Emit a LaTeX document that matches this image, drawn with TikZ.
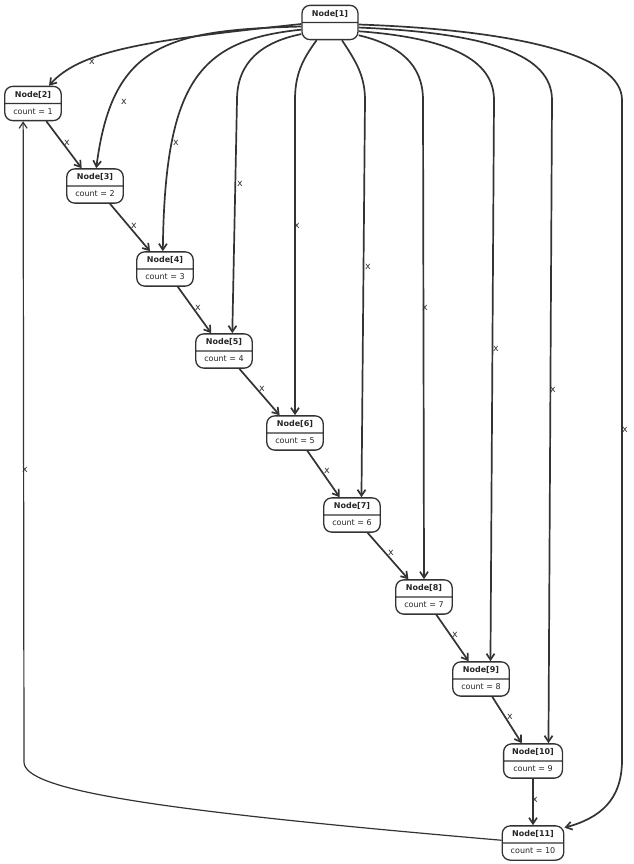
\documentclass[tikz,border=0pt]{standalone}
\usepackage{fontspec}
\setmainfont{DejaVu Sans}
\usetikzlibrary{shapes.multipart,arrows.meta}
\definecolor{ink}{HTML}{333333}
% uniform height for each compartment of a state box
\newcommand\partstrut{\rule[-1.8pt]{0pt}{7.8pt}}
\begin{document}
\begin{tikzpicture}[x=1pt,y=-1pt,
  statebox/.style={rectangle split, rectangle split parts=2, draw=ink,
    line width=1.3pt, rounded corners=8pt, fill=white, inner xsep=8.5pt,
    inner ysep=4pt, minimum width=56pt, text=black!85,
    font=\fontsize{8}{9}\selectfont},
  flow/.style={draw=ink, line width=1.7pt,
    -{Straight Barb[length=6pt,width=8pt]}},
  back/.style={draw=ink, line width=1.2pt,
    -{Straight Barb[length=6pt,width=8pt]}},
  elabel/.style={font=\fontsize{9.5}{10}\selectfont, inner sep=0pt, text=black!80}]
\useasboundingbox (0,0) rectangle (633,864);

% states
\node[statebox] (n1)  at (330,22.5) {\partstrut\textbf{Node[1]}\nodepart{two}\partstrut};
\node[statebox] (n2)  at (33,103.5) {\partstrut\textbf{Node[2]}\nodepart{two}\partstrut count = 1};
\node[statebox] (n3)  at (95,186)   {\partstrut\textbf{Node[3]}\nodepart{two}\partstrut count = 2};
\node[statebox] (n4)  at (165,269)  {\partstrut\textbf{Node[4]}\nodepart{two}\partstrut count = 3};
\node[statebox] (n5)  at (224,351)  {\partstrut\textbf{Node[5]}\nodepart{two}\partstrut count = 4};
\node[statebox] (n6)  at (295,433)  {\partstrut\textbf{Node[6]}\nodepart{two}\partstrut count = 5};
\node[statebox] (n7)  at (352,515)  {\partstrut\textbf{Node[7]}\nodepart{two}\partstrut count = 6};
\node[statebox] (n8)  at (424,597)  {\partstrut\textbf{Node[8]}\nodepart{two}\partstrut count = 7};
\node[statebox] (n9)  at (481,679)  {\partstrut\textbf{Node[9]}\nodepart{two}\partstrut count = 8};
\node[statebox] (n10) at (533,761)  {\partstrut\textbf{Node[10]}\nodepart{two}\partstrut count = 9};
\node[statebox] (n11) at (533,843)  {\partstrut\textbf{Node[11]}\nodepart{two}\partstrut count = 10};

% transitions out of Node[1]
\draw[flow] (n1.183) .. controls (150,40) and (80,50) .. (n2.48);
\draw[flow] (n1.188) .. controls (165,30) and (112,45) .. (n3.86);
\draw[flow] (n1.194) .. controls (200,40) and (165,80) .. (n4.97);
\draw[flow] (n1.202) .. controls (262,42) and (237,62) .. (237,100) -- (n5.65);
\draw[flow] (n1.233) .. controls (302,60) and (295,75) .. (295,100) -- (n6.north);
\draw[flow] (n1.304) .. controls (355,60) and (365,75) .. (365,100) -- (n7.62);
\draw[flow] (n1.336) .. controls (400,45) and (423,65) .. (423,100) -- (n8.north);
\draw[flow] (n1.343) .. controls (450,38) and (494,60) .. (494,100) -- (n9.62);
\draw[flow] (n1.350) .. controls (490,33) and (552,55) .. (552,100) -- (n10.49);
\draw[flow] (n1.356) .. controls (516,30) and (622,55) .. (622,100) -- (622,760)
  .. controls (622,800) and (600,818) .. (n11.26);

% chain of transitions
\draw[flow] (n2) -- (n3);
\draw[flow] (n3) -- (n4);
\draw[flow] (n4) -- (n5);
\draw[flow] (n5) -- (n6);
\draw[flow] (n6) -- (n7);
\draw[flow] (n7) -- (n8);
\draw[flow] (n8) -- (n9);
\draw[flow] (n9) -- (n10);
\draw[flow] (n10) -- (n11);

% return transition
\draw[back] (n11.175) .. controls (150,810) and (24,790) .. (24,762) -- (n2.241);

% transition labels
\node[elabel] (l2)  at (92,62)   {x};
\node[elabel] (l3)  at (124,102) {x};
\node[elabel] (l4)  at (176,143) {x};
\node[elabel] (l5)  at (240,184) {x};
\node[elabel] (l6)  at (297,226) {x};
\node[elabel] (l7)  at (368,267) {x};
\node[elabel] (l8)  at (425,308) {x};
\node[elabel] (l9)  at (496,349) {x};
\node[elabel] (l10) at (553,390) {x};
\node[elabel] (l11) at (625,430) {x};
\node[elabel] (c23)   at (67,143)  {x};
\node[elabel] (c34)   at (134,226) {x};
\node[elabel] (c45)   at (198,308) {x};
\node[elabel] (c56)   at (262,389) {x};
\node[elabel] (c67)   at (327,471) {x};
\node[elabel] (c78)   at (391,553) {x};
\node[elabel] (c89)   at (455,635) {x};
\node[elabel] (c910)  at (510,717) {x};
\node[elabel] (c1011) at (535,800) {x};
\node[elabel] (c112)  at (25,470)  {x};
\end{tikzpicture}
\end{document}
